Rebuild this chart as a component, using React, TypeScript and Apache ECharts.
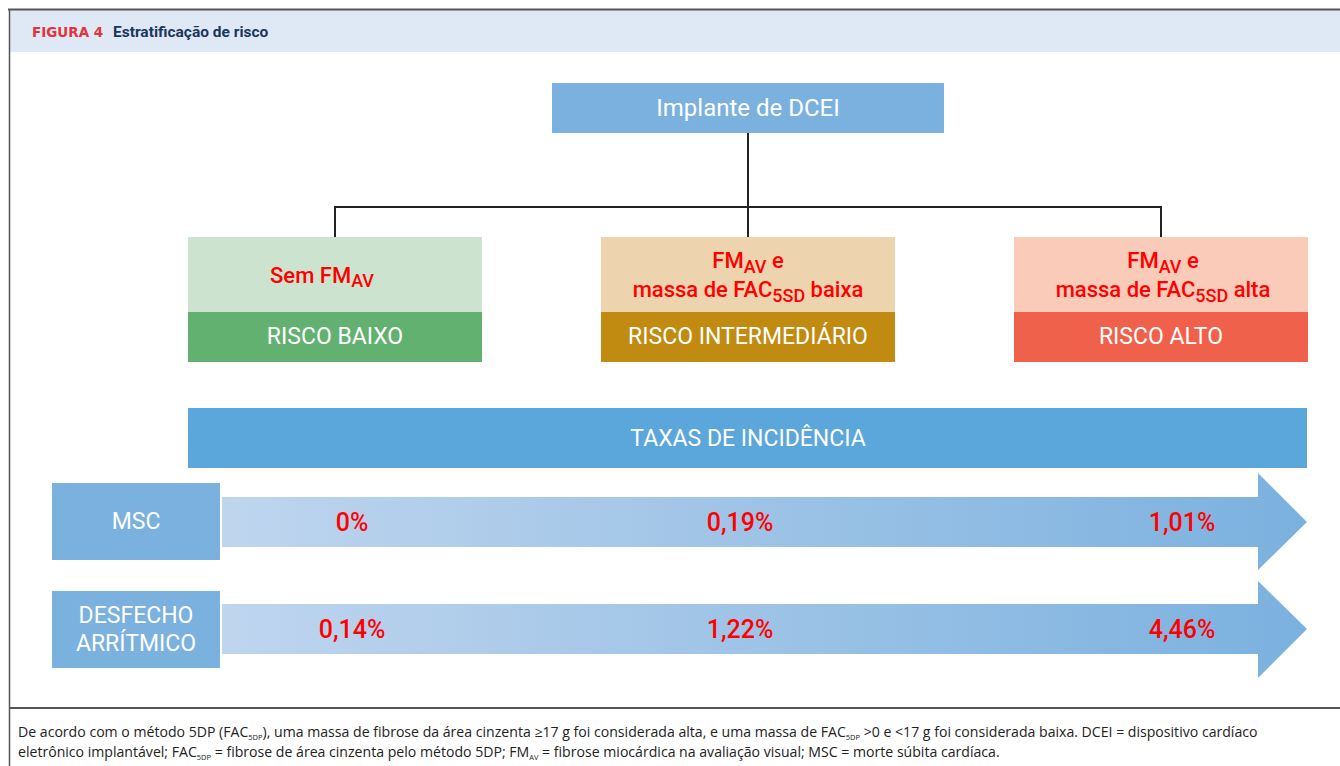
import React, { useEffect, useRef } from "react";
import * as echarts from "echarts";

// ---- content ----
const figureTag = "FIGURA 4";
const figureTitle = "Estratificação de risco";
const rootLabel = "Implante de DCEI";
const riskCriteria = [
  "{m|Sem FM}{s|AV}",
  "{m|FM}{s|AV}{m| e}\n{m|massa de FAC}{s|5SD}{m| baixa}",
  "{m|FM}{s|AV}{m| e}\n{m|massa de FAC}{s|5SD}{m| alta}",
];
const riskLevels = ["RISCO BAIXO", "RISCO INTERMEDIÁRIO", "RISCO ALTO"];
const incidenceTitle = "TAXAS DE INCIDÊNCIA";
const outcomeLabels = ["MSC", "DESFECHO\nARRÍTMICO"];
const mscRates = ["0%", "0,19%", "1,01%"];
const arrhythmicRates = ["0,14%", "1,22%", "4,46%"];
const footnoteLines = [
  "De acordo com o método 5DP (FAC{s|5DP}), uma massa de fibrose da área cinzenta ≥17 g foi considerada alta, e uma massa de FAC{s|5DP} >0 e <17 g foi considerada baixa. DCEI = dispositivo cardíaco",
  "eletrônico implantável; FAC{s|5DP} = fibrose de área cinzenta pelo método 5DP; FM{s|AV} = fibrose miocárdica na avaliação visual; MSC = morte súbita cardíaca.",
];

// ---- styling / layout ----
const FONT = "Roboto, 'Noto Sans', sans-serif";
const NOTE_FONT = "'Open Sans', 'Noto Sans', sans-serif";
const lightColors = ["#CCE4CF", "#EDD3AE", "#FACBB9"];
const darkColors = ["#62B170", "#C08B10", "#F0614B"];
const colX = [188, 601, 1014];
const colW = 294;
const criteriaOffset = [-13, 0, 2];
const valueCenters = [352, 740, 1182];

export default function App() {
  const ref = useRef<HTMLDivElement>(null);
  useEffect(() => {
    if (!ref.current) return;
    const chart = echarts.init(ref.current, undefined, { renderer: "svg" });
    const els: any[] = [];

    // header band & frame
    els.push({ type: "rect", shape: { x: 10, y: 10, width: 1330, height: 42 }, style: { fill: "#DEE9F5" } });
    els.push({ type: "line", shape: { x1: 8, y1: 9.5, x2: 1340, y2: 9.5 }, style: { stroke: "#555", lineWidth: 2 } });
    els.push({ type: "line", shape: { x1: 9.5, y1: 9, x2: 9.5, y2: 766 }, style: { stroke: "#555", lineWidth: 1.5 } });
    els.push({ type: "line", shape: { x1: 9, y1: 708, x2: 1340, y2: 708 }, style: { stroke: "#555", lineWidth: 2 } });
    els.push({
      type: "text", x: 32, y: 32,
      style: { text: figureTag, fill: "#E5323B", font: "bold 13.5px 'DejaVu Sans', sans-serif", align: "left", verticalAlign: "middle" },
    });
    els.push({
      type: "text", x: 113, y: 32,
      style: { text: figureTitle, fill: "#1B365D", font: `bold 15.5px ${FONT}`, align: "left", verticalAlign: "middle" },
    });

    // root box
    els.push({ type: "rect", shape: { x: 552, y: 83, width: 392, height: 50 }, style: { fill: "#7BB1DF" } });
    els.push({
      type: "text", x: 748, y: 108,
      style: { text: rootLabel, fill: "#fff", font: `24px ${FONT}`, align: "center", verticalAlign: "middle" },
    });

    // connectors
    const centers = colX.map((x) => x + colW / 2);
    els.push({ type: "line", shape: { x1: 748, y1: 133, x2: 748, y2: 237 }, style: { stroke: "#222", lineWidth: 2 } });
    els.push({
      type: "polyline",
      shape: { points: [[centers[0], 237], [centers[0], 207], [centers[2], 207], [centers[2], 237]] },
      style: { stroke: "#222", lineWidth: 2, fill: "none" },
    });

    // risk boxes
    riskLevels.forEach((lvl, i) => {
      const x = colX[i];
      els.push({ type: "rect", shape: { x, y: 237, width: colW, height: 75 }, style: { fill: lightColors[i] } });
      els.push({ type: "rect", shape: { x, y: 312, width: colW, height: 50 }, style: { fill: darkColors[i] } });
      els.push({
        type: "text", x: x + colW / 2 + criteriaOffset[i], y: 275,
        style: {
          text: riskCriteria[i], align: "center", verticalAlign: "middle",
          rich: {
            m: { fill: "#FF0000", fontSize: 22, fontWeight: 500, fontFamily: FONT, lineHeight: 29, verticalAlign: "middle" },
            s: { fill: "#FF0000", fontSize: 18, fontWeight: 500, fontFamily: FONT, lineHeight: 13, verticalAlign: "bottom" },
          },
        },
      });
      els.push({
        type: "text", x: x + colW / 2, y: 336,
        style: { text: lvl, fill: "#fff", font: `23px ${FONT}`, align: "center", verticalAlign: "middle" },
      });
    });

    // incidence band
    els.push({ type: "rect", shape: { x: 188, y: 408, width: 1119, height: 60 }, style: { fill: "#5BA6DA" } });
    els.push({
      type: "text", x: 748, y: 438,
      style: { text: incidenceTitle, fill: "#fff", font: `23px ${FONT}`, align: "center", verticalAlign: "middle" },
    });

    // outcome rows
    const rows = [
      { label: outcomeLabels[0], rates: mscRates, boxY: 483, boxH: 77, bodyTop: 497, bodyBot: 547, headTop: 473, headBot: 570 },
      { label: outcomeLabels[1], rates: arrhythmicRates, boxY: 591, boxH: 77, bodyTop: 604, bodyBot: 654, headTop: 581, headBot: 678 },
    ];
    rows.forEach((r) => {
      els.push({ type: "rect", shape: { x: 52, y: r.boxY, width: 168, height: r.boxH }, style: { fill: "#7BB1DF" } });
      els.push({
        type: "text", x: 136, y: r.boxY + r.boxH / 2,
        style: { text: r.label, fill: "#fff", font: `23px ${FONT}`, lineHeight: 28, align: "center", verticalAlign: "middle" },
      });
      const mid = (r.bodyTop + r.bodyBot) / 2;
      els.push({
        type: "polygon",
        shape: {
          points: [
            [222, r.bodyTop], [1258, r.bodyTop], [1258, r.headTop], [1307, mid],
            [1258, r.headBot], [1258, r.bodyBot], [222, r.bodyBot],
          ],
        },
        style: {
          fill: new echarts.graphic.LinearGradient(0, 0, 1, 0, [
            { offset: 0, color: "#BFD5EE" },
            { offset: 1, color: "#7BB1DF" },
          ]),
        },
      });
      r.rates.forEach((v, j) => {
        els.push({
          type: "text", x: valueCenters[j], y: mid,
          style: { text: v, fill: "#FF0000", font: `500 25px ${FONT}`, align: "center", verticalAlign: "middle" },
        });
      });
    });

    // footnote
    footnoteLines.forEach((t, i) => {
      els.push({
        type: "text", x: 18, y: 731 + i * 20,
        style: {
          text: t, fill: "#222", font: `14.1px ${NOTE_FONT}`, lineHeight: 20, align: "left", verticalAlign: "middle",
          rich: {
            s: { fill: "#222", fontSize: 7.5, fontFamily: NOTE_FONT, lineHeight: 12, verticalAlign: "bottom" },
          },
        },
      });
    });

    chart.setOption({ animation: false, graphic: { elements: els } });
    return () => chart.dispose();
  }, []);
  return <div ref={ref} style={{ position: "fixed", left: 0, top: 0, width: 1340, height: 766, background: "#fff" }} />;
}
